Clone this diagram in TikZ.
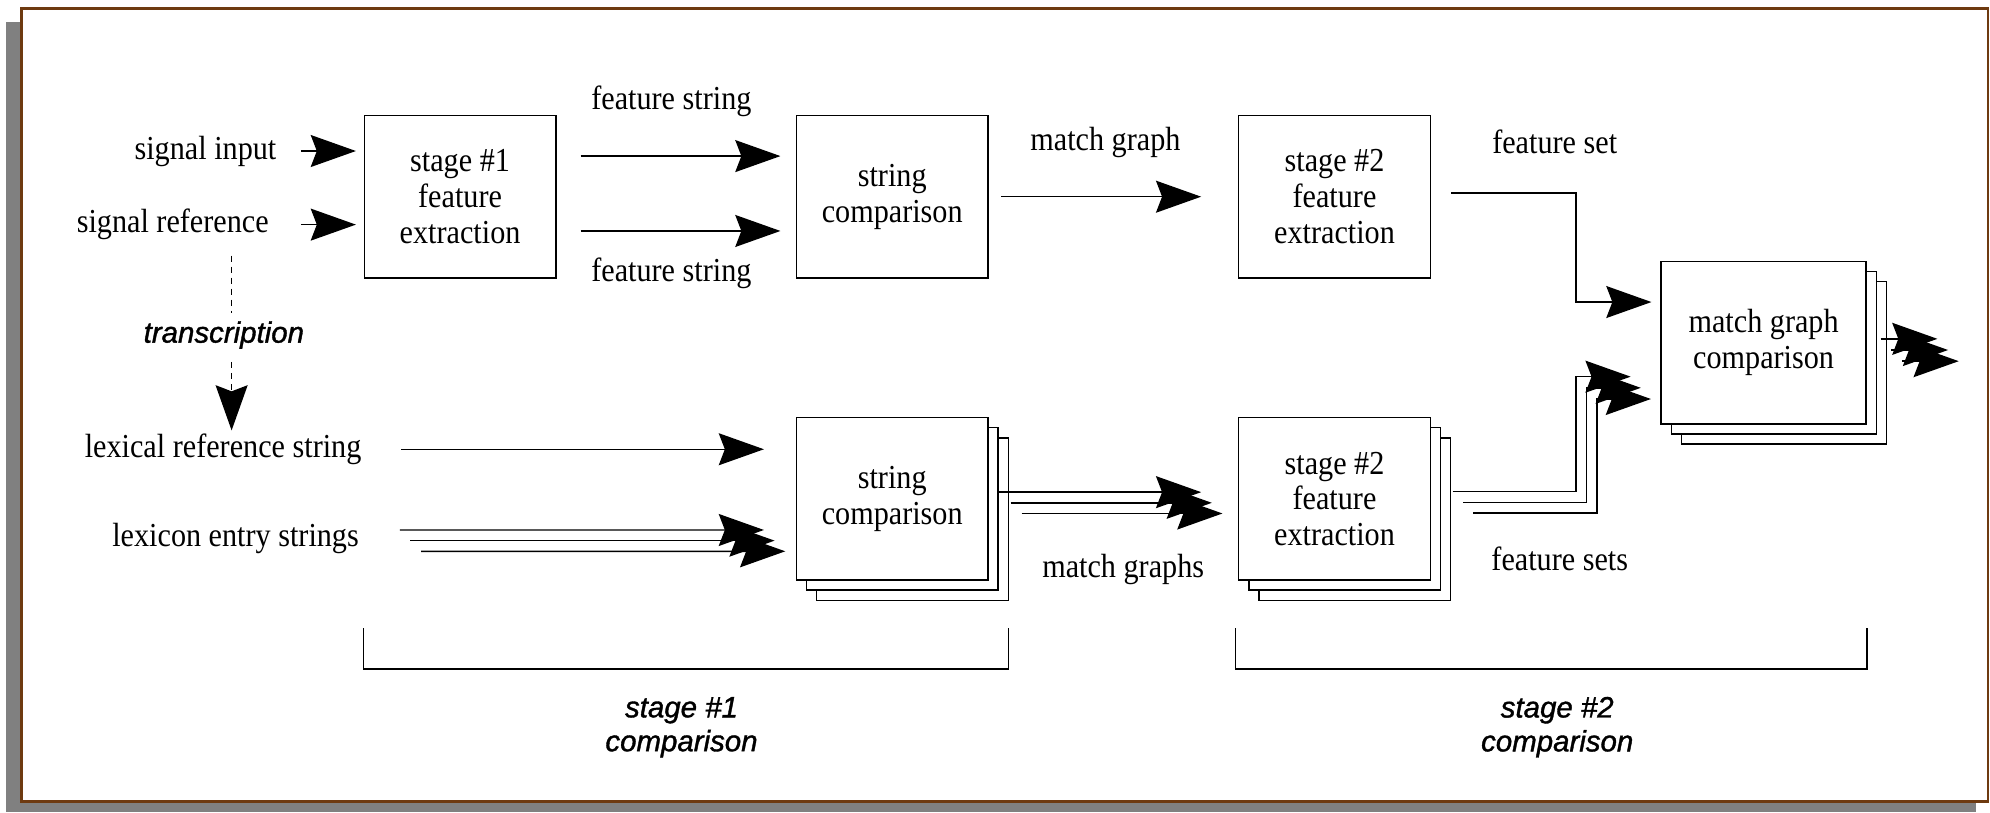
\documentclass[tikz,border=0pt]{standalone}
\usepackage{fontspec}
\setmainfont{Liberation Serif}[FakeStretch=0.9]
\newfontfamily\slantsans{Liberation Sans}[FakeBold=1.2]
\usetikzlibrary{positioning,arrows.meta}

\definecolor{framebrown}{RGB}{110,58,16}
\definecolor{shadowgray}{RGB}{128,128,128}

\begin{document}
\begin{tikzpicture}[
        box/.style={draw, fill=white, line width=0.8pt, minimum width=3.775cm, minimum height=3.2cm, align=center, inner sep=0pt},
        lbl/.style={inner sep=0pt, align=center},
        flow/.style={line width=0.8pt, -{Stealth[length=0.89cm, width=0.63cm, inset=0.12cm]}},
        plain/.style={line width=0.8pt},
        dashline/.style={line width=0.8pt, dash pattern=on 3.75pt off 2.4pt},
        stagelbl/.style={font=\slantsans\itshape\fontsize{16.5}{19}\selectfont, align=center, inner sep=0pt},
        font=\fontsize{18.8}{20}\selectfont
    ]
    \useasboundingbox (0,0) rectangle (39.2,16);

    % sheet with drop shadow
    \fill[shadowgray] (0.11,0) rectangle (38.92,15.57);
    \draw[framebrown, line width=1.6pt, fill=white] (0.42,0.21) rectangle (39.16,15.84);

    % top row: single signal path
    \node[box] (s1box) at (9.0625,12.125) {stage \#1\\feature\\extraction};
    \node[box] (cmp1) at (17.575,12.125) {string\\comparison};
    \node[box] (fe2) at (26.2875,12.125) {stage \#2\\feature\\extraction};

    % stacked boxes, back sheets first
    \foreach \k in {2,1} {
        \node[box] (cmpstack-\k) at ({17.575+0.2*\k},{6.175-0.2*\k}) {};
        \node[box] (festack-\k) at ({26.2875+0.2*\k},{6.175-0.2*\k}) {};
        \node[box, minimum width=4.04cm] (mg-\k) at ({34.74+0.2*\k},{9.25-0.2*\k}) {};
    }
    \node[box] (cmpstack) at (17.575,6.175) {string\\comparison};
    \node[box] (festack) at (26.2875,6.175) {stage \#2\\feature\\extraction};
    \node[box, minimum width=4.04cm] (mg) at (34.74,9.25) {match graph\\comparison};

    % labels
    \node[lbl, anchor=east] (sigin) at (5.45,13.025) {signal input};
    \node[lbl, anchor=east] (sigref) at (5.3,11.575) {signal reference};
    \node[lbl, anchor=east] (lexref) at (7.125,7.15) {lexical reference string};
    \node[lbl, anchor=east] (lexent) at (7.075,5.4) {lexicon entry strings};
    \node[lbl] (fstrtop) at (13.225,14.0) {feature string};
    \node[lbl] (fstrbot) at (13.225,10.625) {feature string};
    \node[lbl] (mgraph) at (21.775,13.2) {match graph};
    \node[lbl] (fset) at (30.625,13.2) {feature set};
    \node[lbl] (mgraphs) at (22.125,4.775) {match graphs};
    \node[lbl] (fsets) at (30.725,5.0) {feature sets};
    \node[stagelbl] (trans) at (4.41,9.4) {transcription};

    % top row connectors
    \draw[flow, shorten <=0.475cm, shorten >=0.15cm] (sigin.east) -- (sigin.east -| s1box.west);
    \draw[flow, shorten <=0.625cm, shorten >=0.15cm] (sigref.east) -- (sigref.east -| s1box.west);
    \draw[flow, shorten <=0.475cm, shorten >=0.3cm] ([yshift=0.8cm]s1box.east) -- ([yshift=0.8cm]cmp1.west);
    \draw[flow, shorten <=0.475cm, shorten >=0.3cm] ([yshift=-0.675cm]s1box.east) -- ([yshift=-0.675cm]cmp1.west);
    \draw[flow, shorten <=0.25cm, shorten >=0.725cm] (cmp1) -- (fe2);
    \draw[flow, shorten >=0.175cm] ([xshift=0.4cm, yshift=0.075cm]fe2.east) -| ([xshift=-1.66cm, yshift=0.8cm]mg.west) -- ([yshift=0.8cm]mg.west);

    % transcription
    \coordinate (tx) at (4.5625,0);
    \draw[dashline, shorten <=0.3cm, shorten >=0.15cm] (tx |- sigref.south) -- (tx |- trans.north);
    \draw[dashline, shorten <=0.25cm, shorten >=0.06cm, -{Stealth[length=0.89cm, width=0.63cm, inset=0.12cm]}] (tx |- trans.south) -- (tx |- lexref.north);

    % bottom row connectors
    \draw[flow, shorten <=0.775cm, shorten >=0.625cm] (lexref.east) -- (lexref.east -| cmpstack.west);
    \foreach \k in {0,1,2} {
        \draw[flow] ([shift={({0.8+0.21*\k},{0.16-0.21*\k})}]lexent.east) -- ([shift={({-0.625+0.21*\k},{-0.615-0.21*\k})}]cmpstack.west);
        \draw[flow] ([shift={({0.21+0.22*\k},{0.13-0.21*\k})}]cmpstack.east) -- ([shift={({-0.725+0.21*\k},{0.13-0.21*\k})}]festack.west);
        \draw[flow] ([shift={({0.425+0.205*\k},{0.14-0.21*\k})}]festack.east) -| ([shift={({-1.66+0.205*\k},{-0.67-0.22*\k})}]mg.west) -- ([shift={({-0.585+0.2*\k},{-0.67-0.22*\k})}]mg.west);
    }

    % output of the last stage
    \coordinate (out) at ([xshift=1.39cm]mg.east);
    \foreach \k in {0,1,2}
        \draw[flow] ([shift={({0.27+0.21*\k},{0.075-0.22*\k})}]mg.east) -- ([shift={({0.21*\k},{0.075-0.22*\k})}]out);

    % stage brackets
    \coordinate (brtop) at (0,3.625);
    \coordinate (brbot) at (0,2.825);
    \draw[plain] (s1box.west |- brtop) -- (s1box.west |- brbot) -- ([xshift=0.3875cm]cmpstack.east |- brbot) -- ([xshift=0.3875cm]cmpstack.east |- brtop);
    \draw[plain] ([xshift=-0.05cm]festack.west |- brtop) -- ([xshift=-0.05cm]festack.west |- brbot) -- (mg.east |- brbot) -- (mg.east |- brtop);

    \node[stagelbl] (stage1) at (13.425,1.675) {stage \#1\\comparison};
    \node[stagelbl] (stage2) at (30.675,1.675) {stage \#2\\comparison};

\end{tikzpicture}
\end{document}
